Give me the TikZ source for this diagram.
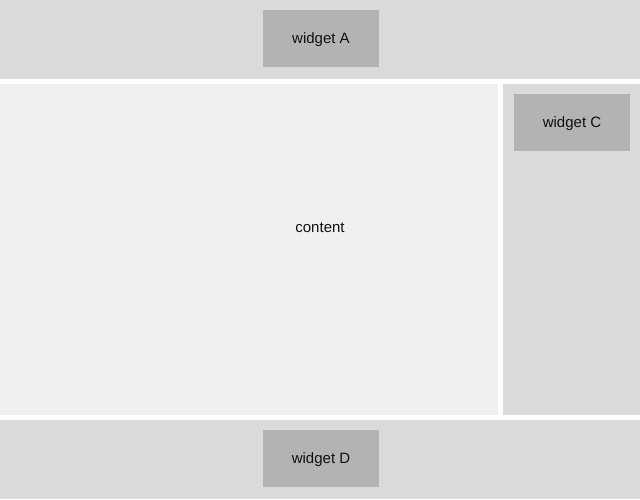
\documentclass[tikz,border=0pt]{standalone}
\usepackage{fontspec}
\setmainfont{Liberation Sans}
\usetikzlibrary{positioning}
\definecolor{barc}{HTML}{DADADA}
\definecolor{mainc}{HTML}{F0F0F0}
\definecolor{widc}{HTML}{B3B3B3}
\definecolor{txtc}{HTML}{111111}

\begin{document}
\begin{tikzpicture}[x=1pt, y=-1pt, font=\fontsize{15}{18}\selectfont, text=txtc,
  region/.style={fill=barc, inner sep=0pt, outer sep=0pt},
  widget/.style={fill=widc, inner sep=0pt, outer sep=0pt, text depth=0pt,
                 minimum width=116pt, minimum height=57pt}]
  \useasboundingbox[fill=white] (0,0) rectangle (640,499);
  % page regions
  \node[region, minimum width=640pt, minimum height=79pt] (header) at (320,39.5) {};
  \node[region, fill=mainc, minimum width=498pt, minimum height=331pt] (content) at (249,249.5) {};
  \node[region, minimum width=137pt, minimum height=331pt] (sidebar) at (571.5,249.5) {};
  \node[region, minimum width=640pt, minimum height=79pt] (footer) at (320,459.5) {};
  % widgets
  \node[widget] (wa) at (321,38.5) {widget A};
  \node[widget, anchor=north west] (wc) at ([xshift=11pt, yshift=-10pt]sidebar.north west) {widget C};
  \node[widget] (wd) at (321,458.5) {widget D};
  \node[text depth=0pt] (ctext) at (320,228) {content};
\end{tikzpicture}
\end{document}
